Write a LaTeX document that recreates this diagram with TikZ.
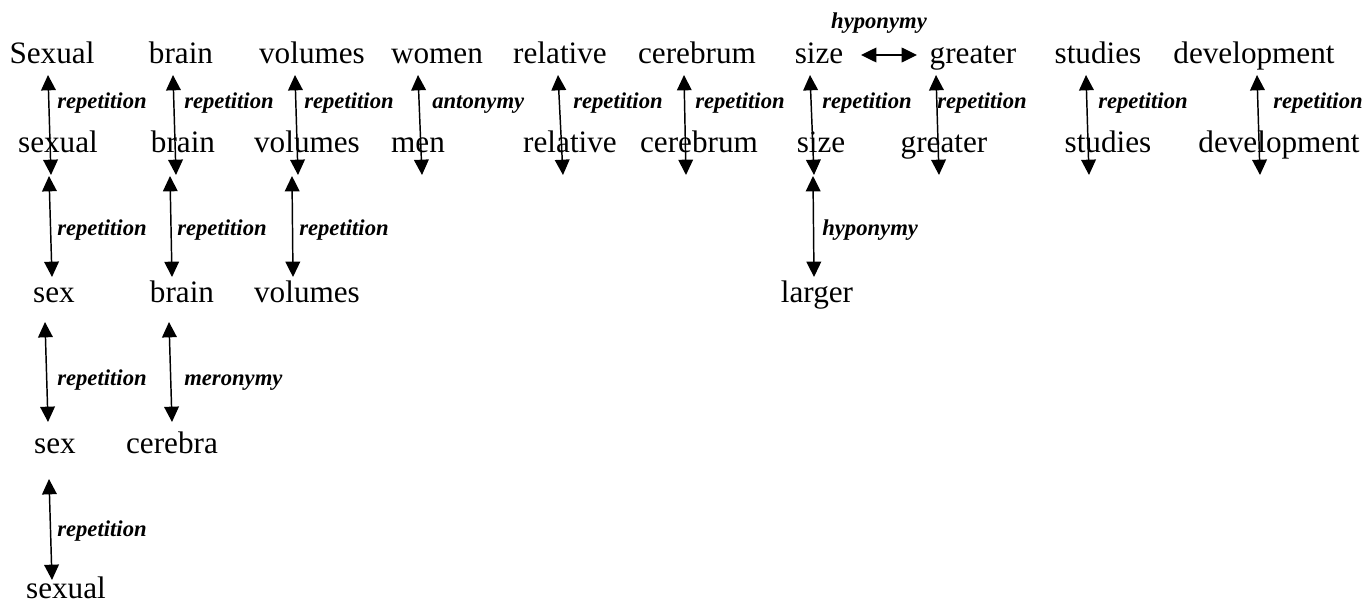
\documentclass[tikz,border=0pt]{standalone}
\usepackage{fontspec}
\setmainfont{Liberation Serif}
\usetikzlibrary{arrows.meta}
\tikzset{
  word/.style={anchor=base, inner sep=0pt, font=\fontsize{23.4}{28}\selectfont},
  rel/.style={anchor=base west, inner sep=0pt, font=\fontsize{17}{20}\selectfont\bfseries\itshape},
  link/.style={line width=1.1pt, {Triangle[length=11.5pt,width=11pt]}-{Triangle[length=11.5pt,width=11pt]}},
}
\begin{document}
\begin{tikzpicture}[x=0.75pt,y=-0.75pt]
\useasboundingbox (0,0) rectangle (1367,603);
% row 1
\node[word] (a1) at (52,63) {Sexual};
\node[word] (a2) at (181,63) {brain};
\node[word] (a3) at (312,63) {volumes};
\node[word] (a4) at (437,63) {women};
\node[word] (a5) at (560,63) {relative};
\node[word] (a6) at (697,63) {cerebrum};
\node[word] (a7) at (819,63) {size};
\node[word] (a8) at (973,63) {greater};
\node[word] (a9) at (1098,63) {studies};
\node[word] (a10) at (1254,63) {development};
% row 2
\node[word] (b1) at (58,152) {sexual};
\node[word] (b2) at (183,152) {brain};
\node[word] (b3) at (307,152) {volumes};
\node[word] (b4) at (418,152) {men};
\node[word] (b5) at (570,152) {relative};
\node[word] (b6) at (699,152) {cerebrum};
\node[word] (b7) at (821,152) {size};
\node[word] (b8) at (944,152) {greater};
\node[word] (b9) at (1108,152) {studies};
\node[word] (b10) at (1279,152) {development};
% row 3
\node[word] (c1) at (54,302) {sex};
\node[word] (c2) at (182,302) {brain};
\node[word] (c3) at (307,302) {volumes};
\node[word] (c7) at (817,302) {larger};
% row 4
\node[word] (d1) at (55,453) {sex};
\node[word] (d2) at (172,453) {cerebra};
% row 5
\node[word] (e1) at (66,598) {sexual};

% arrow end points
\coordinate (p1t) at (48,75);    \coordinate (p1b) at (51,175);
\coordinate (p2t) at (173,75);   \coordinate (p2b) at (176,175);
\coordinate (p3t) at (295,75);   \coordinate (p3b) at (298,175);
\coordinate (p4t) at (418,75);   \coordinate (p4b) at (422,175);
\coordinate (p5t) at (558,75);   \coordinate (p5b) at (563,175);
\coordinate (p6t) at (684,75);   \coordinate (p6b) at (686,175);
\coordinate (p7t) at (810,75);   \coordinate (p7b) at (814,175);
\coordinate (p8t) at (936,75);   \coordinate (p8b) at (939,175);
\coordinate (p9t) at (1086,75);  \coordinate (p9b) at (1089,175);
\coordinate (p10t) at (1257,75); \coordinate (p10b) at (1260,175);

\coordinate (q1t) at (49,176);   \coordinate (q1b) at (52,277);
\coordinate (q2t) at (170,176);  \coordinate (q2b) at (172,277);
\coordinate (q3t) at (292,176);  \coordinate (q3b) at (293,277);
\coordinate (q7t) at (813,176);  \coordinate (q7b) at (814,277);

\coordinate (s1t) at (45,322);   \coordinate (s1b) at (48,422);
\coordinate (s2t) at (169,322);  \coordinate (s2b) at (172,422);

\coordinate (u1t) at (49,479);   \coordinate (u1b) at (52,580);

\coordinate (hl) at (861,55);    \coordinate (hr) at (917,55);

% row 1 -> row 2
\draw[link] (p1t) -- (p1b);  \node[rel] (l1) at (57,108) {repetition};
\draw[link] (p2t) -- (p2b);  \node[rel] (l2) at (184,108) {repetition};
\draw[link] (p3t) -- (p3b);  \node[rel] (l3) at (304,108) {repetition};
\draw[link] (p4t) -- (p4b);  \node[rel] (l4) at (432,108) {antonymy};
\draw[link] (p5t) -- (p5b);  \node[rel] (l5) at (573,108) {repetition};
\draw[link] (p6t) -- (p6b);  \node[rel] (l6) at (695,108) {repetition};
\draw[link] (p7t) -- (p7b);  \node[rel] (l7) at (822,108) {repetition};
\draw[link] (p8t) -- (p8b);  \node[rel] (l8) at (937,108) {repetition};
\draw[link] (p9t) -- (p9b);  \node[rel] (l9) at (1098,108) {repetition};
\draw[link] (p10t) -- (p10b); \node[rel] (l10) at (1273,108) {repetition};

% row 2 -> row 3
\draw[link] (q1t) -- (q1b);  \node[rel] (m1) at (57,235) {repetition};
\draw[link] (q2t) -- (q2b);  \node[rel] (m2) at (177,235) {repetition};
\draw[link] (q3t) -- (q3b);  \node[rel] (m3) at (299,235) {repetition};
\draw[link] (q7t) -- (q7b);  \node[rel] (m7) at (822,235) {hyponymy};

% row 3 -> row 4
\draw[link] (s1t) -- (s1b);  \node[rel] (n1) at (57,385) {repetition};
\draw[link] (s2t) -- (s2b);  \node[rel] (n2) at (184,385) {meronymy};

% row 4 -> row 5
\draw[link] (u1t) -- (u1b);  \node[rel] (o1) at (57,536) {repetition};

% size <-> greater
\draw[link] (hl) -- (hr);
\node[rel, anchor=base] (h1) at (879,28) {hyponymy};
\end{tikzpicture}
\end{document}
